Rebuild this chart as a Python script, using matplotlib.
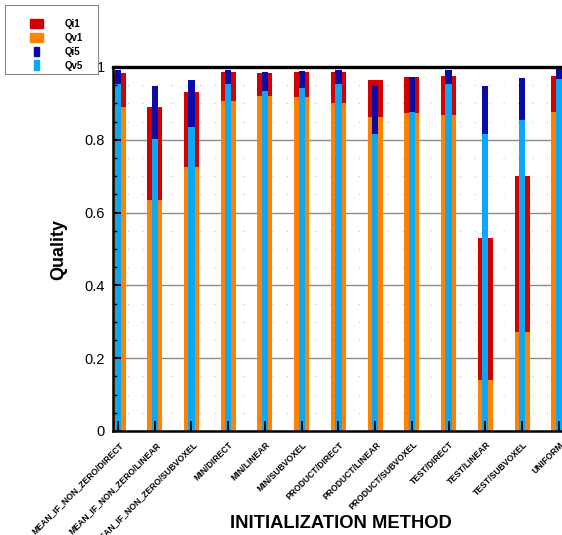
import numpy as np
import matplotlib
matplotlib.use('Agg')
import matplotlib.pyplot as plt
import matplotlib.patches as mpatches
from matplotlib.legend_handler import HandlerPatch
from matplotlib.transforms import ScaledTranslation

plt.rcParams['font.family'] = ['Liberation Sans', 'DejaVu Sans']

# data
categories = ['MEAN_IF_NON_ZERO/DIRECT', 'MEAN_IF_NON_ZERO/LINEAR', 'MEAN_IF_NON_ZERO/SUBVOXEL',
              'MIN/DIRECT', 'MIN/LINEAR', 'MIN/SUBVOXEL',
              'PRODUCT/DIRECT', 'PRODUCT/LINEAR', 'PRODUCT/SUBVOXEL',
              'TEST/DIRECT', 'TEST/LINEAR', 'TEST/SUBVOXEL', 'UNIFORM']
qi1 = [0.983, 0.891, 0.932, 0.987, 0.983, 0.985, 0.985, 0.965, 0.973, 0.976, 0.529, 0.701, 0.974]
qv1 = [0.891, 0.635, 0.724, 0.907, 0.920, 0.918, 0.901, 0.862, 0.875, 0.868, 0.139, 0.272, 0.876]
qi5 = [0.992, 0.948, 0.964, 0.992, 0.985, 0.989, 0.992, 0.948, 0.973, 0.992, 0.948, 0.969, 0.994]
qv5 = [0.952, 0.801, 0.834, 0.953, 0.935, 0.943, 0.953, 0.816, 0.876, 0.952, 0.815, 0.855, 0.966]

c_qi1 = '#d40000'
c_qv1 = '#ff8200'
c_qi5 = '#0a0aa8'
c_qv5 = '#0aa8f8'

fig = plt.figure(figsize=(5.62, 5.35), dpi=100)
ax = fig.add_axes([113 / 562, 104 / 535, 455 / 562, 364 / 535])

x = np.arange(len(categories))
wide = 0.41
narrow = 0.17
ax.bar(x, qi1, width=wide, color=c_qi1, zorder=1)
ax.bar(x, qv1, width=wide, color=c_qv1, zorder=1.1)
ax.bar(x, qi5, width=narrow, color=c_qi5, zorder=1.2)
ax.bar(x, qv5, width=narrow, color=c_qv5, zorder=1.3)

# grid behind bars
for v in [0.2, 0.4, 0.6, 0.8]:
    ax.axhline(v, color='#8c8c8c', lw=1.0, zorder=0.5)
for v in np.arange(0.05, 1.0, 0.05):
    if abs(v * 5 - round(v * 5)) > 1e-6:
        ax.axhline(v, color='#c8c8c8', lw=0.8, ls=(0, (1, 12)), zorder=0.4)

ax.set_xlim(-0.136, 12.25)
ax.set_ylim(0, 1)
ax.set_yticks([0, 0.2, 0.4, 0.6, 0.8, 1])
ax.set_yticklabels(['0', '0.2', '0.4', '0.6', '0.8', '1'])
ax.set_yticks(np.arange(0, 1.0001, 0.05), minor=True)
ax.tick_params(axis='y', which='major', direction='in', length=6, width=1.5,
               labelsize=10.5, pad=6)
ax.tick_params(axis='y', which='minor', direction='in', length=3, width=1)
ax.tick_params(axis='x', which='major', direction='in', length=7, width=1.3, pad=6.5)
ax.tick_params(right=False, top=False)

ax.set_xticks(x)
ax.set_xticklabels(categories, rotation=45, ha='right', va='top',
                   rotation_mode='anchor', fontsize=6.2, fontweight='bold')
for lbl in ax.get_xticklabels():
    lbl.set_transform(lbl.get_transform() + ScaledTranslation(0.5 / 72, 0, fig.dpi_scale_trans))

for s in ['left', 'bottom']:
    ax.spines[s].set_linewidth(1.8)
ax.spines['top'].set_linewidth(2.4)
ax.spines['right'].set_visible(False)

ax.set_ylabel('Quality', fontsize=13, fontweight='bold', labelpad=12)
ax.set_xlabel('INITIALIZATION METHOD', fontsize=13.2, fontweight='bold')
ax.xaxis.set_label_coords(0.5, -0.232)


def box(w, h):
    def f(legend, orig_handle, xdescent, ydescent, width, height, fontsize):
        cx = -xdescent + width / 2
        cy = -ydescent + height / 2
        return mpatches.Rectangle((cx - w / 2, cy - h / 2), w, h)
    return f


handles = [mpatches.Patch(color=c_qi1), mpatches.Patch(color=c_qv1),
           mpatches.Patch(color=c_qi5), mpatches.Patch(color=c_qv5)]
hmap = {handles[0]: HandlerPatch(patch_func=box(9.5, 6)),
        handles[1]: HandlerPatch(patch_func=box(9.5, 6.5)),
        handles[2]: HandlerPatch(patch_func=box(3.6, 7)),
        handles[3]: HandlerPatch(patch_func=box(3.6, 7))}
leg = fig.legend(handles, ['Qi1', 'Qv1', 'Qi5', 'Qv5'], handler_map=hmap,
                 loc='upper left', bbox_to_anchor=(21 / 562, 1 - 19 / 535),
                 bbox_transform=fig.transFigure, borderaxespad=0, borderpad=0,
                 prop={'size': 7, 'weight': 'bold'}, frameon=False,
                 handlelength=3.2, handletextpad=1.3, labelspacing=0.4)
# legend frame
fig.add_artist(mpatches.Rectangle((5 / 562, 1 - 74 / 535), 93 / 562, 69 / 535,
                                  transform=fig.transFigure, fill=False,
                                  edgecolor='#888888', lw=0.8))

plt.savefig('out.png', dpi=100)
